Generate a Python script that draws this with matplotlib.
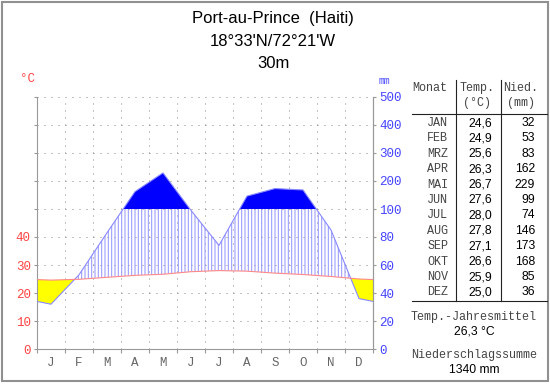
import numpy as np
import matplotlib
matplotlib.use("Agg")
import matplotlib.pyplot as plt
from matplotlib.patches import Rectangle
from matplotlib.lines import Line2D

# ---------------- data ----------------
station = "Port-au-Prince  (Haiti)"
coords = "18°33'N/72°21'W"
elevation = "30m"
month_abbr = ["JAN", "FEB", "MRZ", "APR", "MAI", "JUN", "JUL", "AUG", "SEP", "OKT", "NOV", "DEZ"]
month_letters = ["J", "F", "M", "A", "M", "J", "J", "A", "S", "O", "N", "D"]
temp = [24.6, 24.9, 25.6, 26.3, 26.7, 27.6, 28.0, 27.8, 27.1, 26.6, 25.9, 25.0]
precip = [32, 53, 83, 162, 229, 99, 74, 146, 173, 168, 85, 36]
temp_ticks = [0, 10, 20, 30, 40]
precip_ticks = [0, 20, 40, 60, 80, 100, 200, 300, 400, 500]
temp_mean = "26,3 °C"
precip_sum = "1340 mm"

W, H = 550, 384
RED = "#ff4444"
BLUE = "#4444ff"
GRAY = "#999999"
MONO = "Liberation Mono"
SANS = "Liberation Sans"


def pscale(p):
    p = np.asarray(p, dtype=float)
    return np.where(p <= 100, p / 2.0, 50 + (p - 100) / 10.0)


fig = plt.figure(figsize=(W / 100, H / 100), dpi=100)
fig.patch.set_facecolor("white")


def fx(x):
    return x / W


def fy(y):
    return 1 - y / H


ax = fig.add_axes([fx(37), fy(349), 336 / W, 252 / H])
ax.set_xlim(0, 12)
ax.set_ylim(0, 90)
ax.patch.set_alpha(0)

# curve points: month centres plus edges (Dec/Jan mean)
t_edge = (temp[0] + temp[-1]) / 2
p_edge = (precip[0] + precip[-1]) / 2
xp = np.concatenate([[0], np.arange(12) + 0.5, [12]])
tp = np.concatenate([[t_edge], temp, [t_edge]])
pp = pscale(np.concatenate([[p_edge], precip, [p_edge]]))

xs = np.linspace(0, 12, 2401)
td = np.interp(xs, xp, tp)
pd_ = np.interp(xs, xp, pp)

# grid
for yv in range(10, 91, 10):
    ax.plot([0, 12], [yv, yv], color="#888888", lw=0.72, ls=(0, (1, 6)), zorder=1)
for xv in range(1, 12):
    ax.plot([xv, xv], [0, 90], color="#888888", lw=0.72, ls=(0, (1, 6)), zorder=1)

# arid (yellow)
ax.fill_between(xs, pd_, td, where=pd_ < td, interpolate=True,
                facecolor="#ffff00", edgecolor="none", lw=0, zorder=2)
# humid (hatched)
plt.rcParams["hatch.color"] = "#9999ff"
plt.rcParams["hatch.linewidth"] = 0.75
ax.fill_between(xs, td, np.minimum(pd_, 50), where=pd_ > td, interpolate=True,
                facecolor="none", edgecolor="#9999ff", hatch="|||||", lw=0, zorder=2)
# perhumid (solid blue)
ax.fill_between(xs, 50, pd_, where=pd_ > 50, interpolate=True,
                facecolor="#0000ff", edgecolor="none", lw=0, zorder=3)

ax.plot(xp, pp, color="#8888ff", lw=0.8, zorder=4)
ax.plot(xp, tp, color="#ff8888", lw=0.8, zorder=4)

# spines
ax.spines["top"].set_visible(False)
for s in ["left", "right", "bottom"]:
    ax.spines[s].set_color(GRAY)
    ax.spines[s].set_linewidth(0.8)

ax.set_yticks(range(0, 91, 10))
ax.set_yticklabels([str(v) if v in temp_ticks else "" for v in range(0, 91, 10)],
                   family=MONO, fontsize=9, color=RED)
ax.tick_params(axis="y", colors=GRAY, length=2.5, width=0.8, pad=2, labelcolor=RED)

ax.set_xticks(range(13))
ax.set_xticklabels([])
ax.set_xticks(np.arange(12) + 0.5, minor=True)
ax.set_xticklabels(month_letters, minor=True, family=MONO, fontsize=9, color="#666666")
ax.tick_params(axis="x", which="major", colors=GRAY, length=3, width=0.8)
ax.tick_params(axis="x", which="minor", length=0, pad=6, labelcolor="#666666")

ax2 = ax.twinx()
ax2.set_ylim(0, 90)
for s in ["top", "left", "bottom"]:
    ax2.spines[s].set_visible(False)
ax2.spines["right"].set_color(GRAY)
ax2.spines["right"].set_linewidth(0.8)
ax2.set_yticks(pscale(precip_ticks))
ax2.set_yticklabels([str(v) for v in precip_ticks], family=MONO, fontsize=9, color=BLUE)
ax2.tick_params(axis="y", colors=GRAY, length=2.5, width=0.8, pad=2, labelcolor=BLUE)

# titles
fig.text(fx(273), fy(18), station, ha="center", va="center", family=SANS, fontsize=12)
fig.text(fx(273), fy(41), coords, ha="center", va="center", family=SANS, fontsize=12)
fig.text(fx(273), fy(63), elevation, ha="center", va="center", family=SANS, fontsize=12)
fig.text(fx(27), fy(79), "°C", ha="center", va="center", family=MONO, fontsize=9, color=RED)
fig.text(fx(384), fy(81), "mm", ha="center", va="center", family=MONO, fontsize=7, color=BLUE)

# table
TC = "#444444"
fig.text(fx(430), fy(88), "Monat", ha="center", va="center", family=MONO, fontsize=8.5, color=TC)
fig.text(fx(477), fy(88), "Temp.", ha="center", va="center", family=MONO, fontsize=8.5, color=TC)
fig.text(fx(477), fy(103), "(°C)", ha="center", va="center", family=MONO, fontsize=8.5, color=TC)
fig.text(fx(521), fy(88), "Nied.", ha="center", va="center", family=MONO, fontsize=8.5, color=TC)
fig.text(fx(521), fy(103), "(mm)", ha="center", va="center", family=MONO, fontsize=8.5, color=TC)
for i in range(12):
    yy = 123 + i * 15.4
    fig.text(fx(448), fy(yy), month_abbr[i], ha="right", va="center", family=MONO,
             fontsize=8.5, color=TC)
    fig.text(fx(492), fy(yy), f"{temp[i]:.1f}".replace(".", ","), ha="right", va="center",
             family=SANS, fontsize=8.7, color="black")
    fig.text(fx(535), fy(yy), str(precip[i]), ha="right", va="center",
             family=SANS, fontsize=8.7, color="black")
fig.text(fx(474), fy(317), "Temp.-Jahresmittel", ha="center", va="center", family=MONO,
         fontsize=8.5, color=TC)
fig.text(fx(474), fy(331), temp_mean, ha="center", va="center", family=SANS, fontsize=8.7, color="black")
fig.text(fx(474), fy(355), "Niederschlagssumme", ha="center", va="center", family=MONO,
         fontsize=8.5, color=TC)
fig.text(fx(474), fy(370), precip_sum, ha="center", va="center", family=SANS, fontsize=8.7, color="black")

for xl in (456, 501):
    fig.add_artist(Line2D([fx(xl), fx(xl)], [fy(80), fy(301)], color="#222222", lw=0.8))
for yl in (113.5, 301):
    fig.add_artist(Line2D([fx(412), fx(547)], [fy(yl), fy(yl)], color="#222222", lw=0.8))

# frame
fig.add_artist(Rectangle((fx(1.5), fy(381)), fx(546), 379.5 / H, transform=fig.transFigure,
                         facecolor="none", edgecolor="#909090", lw=1.5))

fig.savefig("out.png", dpi=100)
